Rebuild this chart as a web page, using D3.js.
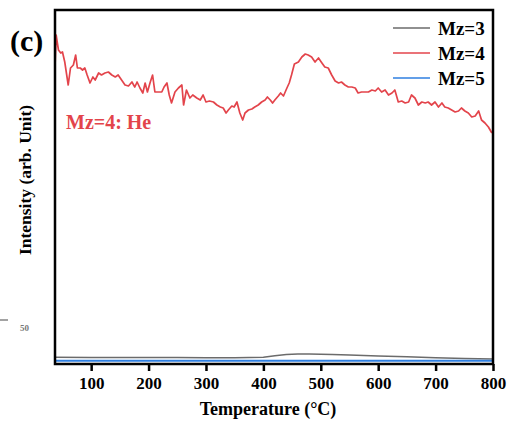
<!DOCTYPE html>
<html>
<head>
<meta charset="utf-8">
<script src="https://cdn.jsdelivr.net/npm/d3@7"></script>
<style>
  body { margin: 0; background: #fff; }
  text { font-family: "Liberation Serif", "Times New Roman", serif; font-weight: bold; }
</style>
</head>
<body>
<svg width="511" height="424"></svg>
<script>
// temperature (°C) and intensity (arb. unit)
const temps4 = [37, 39, 43, 47, 50, 54, 60, 64, 69, 73, 76, 81, 85, 89, 93, 98, 103, 107, 113, 118,
  124, 130, 136, 142, 147, 153, 159, 165, 171, 176, 180, 185, 190, 194, 198, 203, 207, 211, 217, 223,
  227, 232, 236, 240, 246, 252, 258, 261, 266, 272, 277, 284, 290, 295, 300, 306, 313, 319, 325, 330,
  335, 339, 345, 349, 354, 359, 364, 368, 374, 380, 385, 391, 397, 403, 407, 412, 416, 420, 426, 430,
  435, 441, 445, 449, 454, 461, 467, 473, 478, 484, 490, 496, 502, 507, 513, 519, 525, 531, 536, 542,
  548, 554, 560, 565, 571, 577, 583, 589, 595, 600, 606, 612, 618, 624, 629, 635, 641, 647, 653, 658,
  664, 670, 676, 682, 687, 693, 699, 705, 711, 716, 722, 728, 734, 740, 745, 751, 757, 763, 769, 775,
  780, 786, 792, 798];
const mz4 = [297, 329, 314, 311, 312, 302, 279, 296, 299, 309, 296, 296, 294, 296, 289, 281, 287, 284, 291, 289,
  291, 292, 289, 287, 289, 284, 279, 278, 282, 277, 282, 276, 271, 281, 272, 282, 289, 272, 272, 272,
  277, 281, 269, 261, 272, 276, 279, 259, 274, 266, 269, 266, 264, 269, 262, 263, 262, 259, 257, 256,
  251, 254, 258, 257, 262, 251, 244, 251, 254, 255, 257, 259, 262, 264, 267, 264, 261, 264, 268, 271,
  268, 276, 281, 289, 300, 302, 307, 310, 309, 307, 302, 306, 301, 297, 296, 289, 283, 281, 282, 279,
  277, 277, 276, 271, 272, 272, 272, 274, 273, 276, 272, 274, 269, 271, 274, 262, 263, 261, 262, 269,
  266, 259, 262, 261, 262, 259, 262, 257, 261, 257, 256, 254, 252, 253, 256, 253, 251, 247, 248, 253,
  244, 241, 237, 231];

const temps35 = [37, 100, 150, 200, 250, 300, 350, 400, 420, 440, 460, 480, 500, 520, 550, 600, 650, 700, 750, 800];
const mz3 = [6.8, 6.6, 6.5, 6.5, 6.4, 6.3, 6.3, 6.8, 8.2, 9.5, 10, 10, 9.8, 9.5, 9, 8, 7.2, 6.3, 5.6, 5];
const mz5 = [3.2, 3.2, 3.2, 3.2, 3.2, 3.2, 3.2, 3.2, 3.2, 3.2, 3.2, 3.2, 3.2, 3.2, 3.2, 3.2, 3.2, 3.2, 3.2, 3.2];

const xTicks = [100, 200, 300, 400, 500, 600, 700, 800];
const seriesNames = ['Mz=3', 'Mz=4', 'Mz=5'];
const seriesColors = ['#6b6b6b', '#e3444b', '#2f7fe0'];

const svg = d3.select('svg');
const width = +svg.attr('width');
const height = +svg.attr('height');
const margin = { top: 10, right: 18, bottom: 60, left: 55 };
const innerW = width - margin.left - margin.right;
const innerH = height - margin.top - margin.bottom;

const x = d3.scaleLinear().domain([37, 800]).range([margin.left, margin.left + innerW]);
const y = d3.scaleLinear().domain([0, 354]).range([margin.top + innerH, margin.top]);

const line = d3.line()
    .x(d => x(d[0]))
    .y(d => y(d[1]));

// series
const series = [
  { data: d3.zip(temps35, mz3), color: seriesColors[0], w: 1.5 },
  { data: d3.zip(temps35, mz5), color: seriesColors[2], w: 2 },
  { data: d3.zip(temps4, mz4), color: seriesColors[1], w: 1.7 }
];
svg.append('g')
  .selectAll('path')
  .data(series)
  .join('path')
    .attr('d', d => line(d.data))
    .attr('fill', 'none')
    .attr('stroke', d => d.color)
    .attr('stroke-width', d => d.w)
    .attr('stroke-linejoin', 'round');

// frame
svg.append('rect')
    .attr('x', margin.left)
    .attr('y', margin.top)
    .attr('width', innerW)
    .attr('height', innerH)
    .attr('fill', 'none')
    .attr('stroke', '#000')
    .attr('stroke-width', 2.5);

// x axis
const xAxis = svg.append('g')
    .attr('transform', `translate(0, ${margin.top + innerH})`)
    .call(d3.axisBottom(x).tickValues(xTicks).tickSize(7).tickPadding(6).tickSizeOuter(0));
xAxis.select('.domain').remove();
xAxis.selectAll('line').attr('stroke', '#000').attr('stroke-width', 2.5);
xAxis.selectAll('text')
    .attr('font-family', '"Liberation Serif", serif')
    .attr('font-weight', 'bold')
    .attr('font-size', 17)
    .attr('fill', '#000');

// axis titles
svg.append('text')
    .attr('x', margin.left + innerW / 2 - 6)
    .attr('y', 415)
    .attr('text-anchor', 'middle')
    .attr('font-size', 18)
    .text('Temperature (°C)');

svg.append('text')
    .attr('transform', 'translate(31, 180) rotate(-90)')
    .attr('text-anchor', 'middle')
    .attr('font-size', 17.5)
    .text('Intensity (arb. Unit)');

// panel label
svg.append('text')
    .attr('x', 10)
    .attr('y', 51)
    .attr('font-size', 30)
    .text('(c)');

// annotation
svg.append('text')
    .attr('x', 66)
    .attr('y', 129)
    .attr('font-size', 20)
    .attr('fill', seriesColors[1])
    .text('Mz=4: He');

// stray tick remnant on the left
svg.append('line')
    .attr('x1', 0).attr('x2', 8)
    .attr('y1', 320).attr('y2', 320)
    .attr('stroke', '#666').attr('stroke-width', 1.2);
svg.append('text')
    .attr('x', 20)
    .attr('y', 331)
    .attr('font-family', '"DejaVu Sans", sans-serif')
    .attr('font-weight', 'normal')
    .attr('font-size', 9)
    .attr('fill', '#777')
    .text('50');

// legend
const legend = svg.append('g')
    .selectAll('g')
    .data(seriesNames)
    .join('g')
    .attr('transform', (d, i) => `translate(393, ${28 + i * 25})`);
legend.append('line')
    .attr('x1', 0).attr('x2', 37)
    .attr('stroke', (d, i) => seriesColors[i])
    .attr('stroke-width', 1.6);
legend.append('text')
    .attr('x', 45)
    .attr('y', 7)
    .attr('font-size', 19)
    .text(d => d);
</script>
</body>
</html>
